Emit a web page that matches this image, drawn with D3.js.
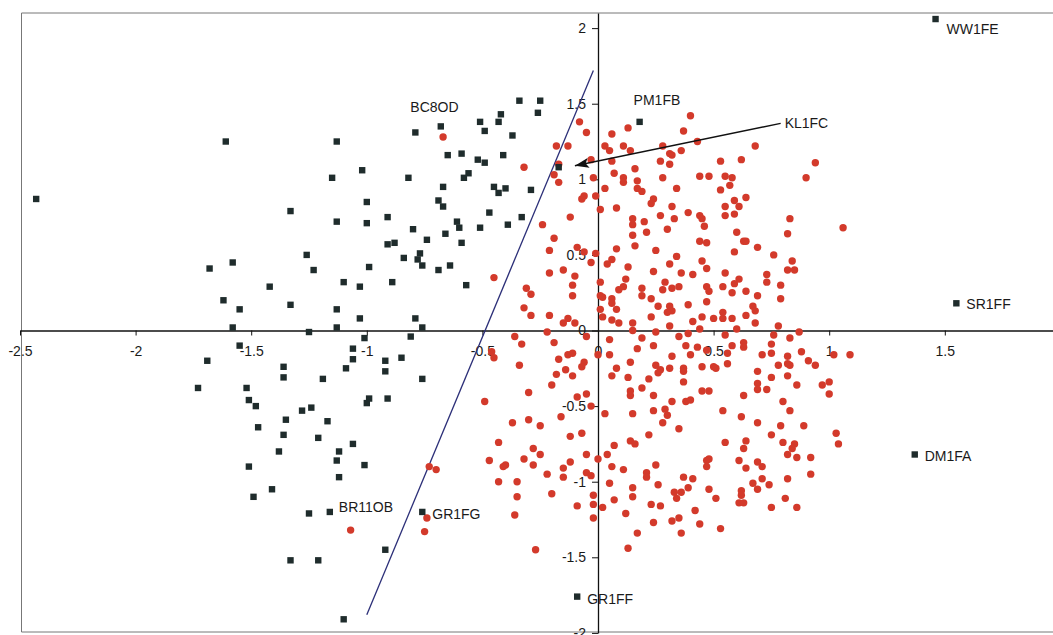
<!DOCTYPE html>
<html>
<head>
<meta charset="utf-8">
<script src="https://cdn.jsdelivr.net/npm/d3@7"></script>
<style>
  body { margin: 0; background: #fff; }
  svg { display: block; }
</style>
</head>
<body>
<svg id="chart" width="1053" height="635"></svg>
<script>
// ---- data ----
const xTicks = [-2.5, -2, -1.5, -1, -0.5, 0, 0.5, 1, 1.5];
const xTickLabels = ["-2.5", "-2", "-1.5", "-1", "-0.5", "0", "0.5", "1", "1.5"];
const yTicks = [-2, -1.5, -1, -0.5, 0, 0.5, 1, 1.5, 2];
const yTickLabels = ["-2", "-1.5", "-1", "-0.5", "0", "0.5", "1", "1.5", "2"];

// group 1 (squares)
const groupSquares = [
  [-1.61,1.25],[-1.13,1.25],[-2.43,0.87],[-1.15,1.01],[-1.33,0.79],[-1.13,0.72],[-1.26,0.50],[-1.23,0.40],
  [-1.58,0.45],[-1.68,0.41],[-1.10,0.32],[-1.42,0.29],[-1.62,0.20],[-1.55,0.14],[-1.33,0.17],[-1.13,0.14],
  [-0.34,1.52],[-0.25,1.52],[-0.26,1.44],[-0.42,1.43],[-0.43,1.38],[-0.51,1.38],[-0.49,1.32],[-0.37,1.29],
  [-0.68,1.35],[-0.79,1.31],[-0.65,1.16],[-0.59,1.17],[-0.52,1.13],[-0.49,1.11],[-0.41,1.16],[-1.02,1.06],
  [-0.82,1.01],[-0.56,1.04],[-0.58,1.01],[-0.67,0.95],[-0.45,0.95],[-0.40,0.94],[-0.43,0.91],[-0.29,0.93],
  [-0.17,1.08],[-1.00,0.85],[-0.69,0.86],[-0.67,0.82],[-0.47,0.78],[-0.33,0.75],[-0.39,0.70],[-0.51,0.68],
  [-1.00,0.71],[-0.91,0.75],[-0.80,0.67],[-0.61,0.72],[-0.60,0.68],[-0.66,0.64],[-0.74,0.60],[-0.59,0.58],
  [-0.91,0.57],[-0.88,0.58],[-0.77,0.51],[-0.84,0.48],[-0.78,0.47],[-0.76,0.43],[-0.99,0.42],[-0.69,0.40],
  [-0.64,0.43],[-1.03,0.29],[-0.89,0.32],[-0.57,0.30],[-1.03,0.08],[-0.79,0.08],[-1.58,0.02],[-1.25,-0.01],
  [-1.13,0.02],[-0.76,0.02],[-1.01,-0.05],[-0.81,-0.04],[-1.55,-0.10],[-1.06,-0.12],[-1.06,-0.19],[-1.69,-0.20],
  [-1.36,-0.24],[-1.36,-0.31],[-1.09,-0.25],[-0.92,-0.20],[-0.92,-0.27],[-0.85,-0.18],[-1.19,-0.32],[-0.76,-0.32],
  [-1.73,-0.38],[-1.52,-0.38],[-1.51,-0.46],[-1.48,-0.50],[-0.99,-0.45],[-1.00,-0.48],[-0.91,-0.45],[-1.28,-0.53],
  [-1.24,-0.51],[-1.35,-0.59],[-1.17,-0.60],[-1.47,-0.64],[-1.36,-0.69],[-1.21,-0.71],[-1.06,-0.75],[-1.38,-0.80],
  [-1.12,-0.80],[-1.13,-0.86],[-1.01,-0.89],[-1.51,-0.90],[-1.12,-0.97],[-1.41,-1.05],[-1.49,-1.10],[-1.25,-1.21],
  [-1.16,-1.20],[-0.76,-1.20],[-0.92,-1.45],[-1.33,-1.52],[-1.21,-1.52],[-1.10,-1.91],
  [0.18,1.38],[1.46,2.06],[1.55,0.18],[1.37,-0.82],[-0.09,-1.76]
];

// group 2 (circles)
const groupCircles = [
  [-0.67,1.28],[-0.08,1.38],[-0.05,1.31],[-0.18,1.22],[-0.13,1.22],[-0.32,1.08],[-0.17,1.10],[-0.19,1.03],
  [-0.17,0.98],[-0.03,1.13],[-0.02,1.01],[-0.06,0.89],[-0.07,0.87],[-0.01,0.89],[0.01,0.80],[-0.12,0.75],
  [-0.24,0.70],[-0.19,0.61],[-0.21,0.53],[-0.09,0.55],[-0.06,0.52],[-0.01,0.51],[-0.03,0.45],[-0.21,0.38],
  [-0.15,0.40],[-0.10,0.36],[-0.11,0.30],[0.01,0.32],[-0.45,0.35],[-0.31,0.28],[-0.29,0.24],[-0.11,0.23],
  [0.01,0.14],[-0.32,0.15],[-0.29,0.10],[-0.21,0.10],[-0.13,0.08],[-0.15,0.05],[-0.10,0.05],
  [0.40,1.42],[0.37,1.32],[0.13,1.34],[0.06,1.30],[0.03,1.22],[0.05,1.19],[0.11,1.22],[0.14,1.19],
  [0.28,1.22],[0.36,1.19],[0.43,1.25],[0.68,1.22],[0.06,1.12],[0.27,1.12],[0.31,1.17],[0.32,1.16],
  [0.31,1.10],[0.53,1.12],[0.62,1.13],[0.94,1.11],[0.90,1.01],[0.16,1.07],[0.07,1.04],[0.11,1.01],
  [0.11,0.98],[0.03,0.94],[0.17,0.99],[0.17,0.94],[0.19,0.92],[0.28,1.01],[0.34,0.94],[0.44,1.02],
  [0.48,1.02],[0.55,1.02],[0.58,1.01],[0.57,0.96],[0.53,0.93],[0.08,0.81],[0.24,0.87],[0.23,0.84],
  [0.32,0.82],[0.39,0.78],[0.44,0.76],[0.45,0.74],[0.59,0.86],[0.64,0.88],[0.55,0.82],[0.61,0.82],
  [0.59,0.77],[0.55,0.76],[0.15,0.74],[0.15,0.70],[0.20,0.72],[0.21,0.65],[0.27,0.76],[0.33,0.74],
  [0.30,0.67],[0.46,0.69],[0.60,0.65],[0.83,0.74],[0.82,0.64],[1.06,0.68],[0.15,0.63],[0.16,0.56],
  [0.08,0.54],[0.25,0.53],[0.44,0.59],[0.47,0.58],[0.63,0.59],[0.64,0.59],[0.69,0.55],[0.59,0.52],
  [0.76,0.50],[0.84,0.46],[0.82,0.40],[0.85,0.40],[0.34,0.49],[0.45,0.46],[0.47,0.41],[0.31,0.44],
  [0.24,0.39],[0.13,0.42],[0.06,0.47],[0.04,0.44],[0.36,0.38],[0.41,0.37],[0.55,0.38],[0.73,0.37],
  [0.73,0.32],[0.12,0.34],[0.09,0.27],[0.11,0.29],[0.19,0.28],[0.19,0.23],[0.28,0.27],[0.29,0.32],
  [0.32,0.28],[0.35,0.29],[0.47,0.29],[0.48,0.26],[0.54,0.29],[0.58,0.25],[0.59,0.31],[0.61,0.34],
  [0.64,0.26],[0.69,0.23],[0.79,0.30],[0.79,0.21],[0.01,0.23],[0.02,0.22],[0.06,0.21],[0.06,0.18],
  [0.08,0.14],[0.23,0.21],[0.26,0.16],[0.31,0.16],[0.32,0.13],[0.30,0.12],[0.39,0.17],[0.47,0.19],
  [0.67,0.16],[0.68,0.13],[0.02,0.09],[0.06,0.07],[0.09,0.05],[0.15,0.05],[0.15,0.00],[0.23,0.09],
  [0.31,0.03],[0.41,0.06],[0.45,0.09],[0.44,0.01],[0.50,0.08],[0.54,0.08],[0.54,0.12],[0.58,0.08],
  [0.60,0.01],[0.64,0.10],[0.68,0.05],[0.78,0.03],
  [-0.73,-0.90],[-0.70,-0.92],[-0.74,-1.24],[-0.75,-1.33],[-1.07,-1.32],
  [-0.36,-0.04],[-0.33,-0.09],[-0.45,-0.18],[-0.46,-0.14],[-0.34,-0.23],[-0.19,-0.08],[-0.22,-0.01],[-0.05,-0.04],
  [-0.17,-0.19],[-0.13,-0.16],[-0.11,-0.15],[-0.06,-0.21],[-0.07,-0.24],[-0.14,-0.26],[-0.18,-0.29],[-0.11,-0.30],
  [-0.20,-0.36],[-0.30,-0.41],[-0.49,-0.47],[-0.09,-0.44],[-0.05,-0.42],[-0.03,-0.50],[-0.16,-0.57],[-0.30,-0.59],
  [-0.37,-0.61],[-0.25,-0.63],[-0.12,-0.70],[-0.07,-0.68],[-0.43,-0.74],[-0.28,-0.78],[-0.25,-0.82],[-0.05,-0.82],
  [-0.47,-0.86],[-0.40,-0.89],[-0.41,-0.90],[-0.32,-0.85],[-0.28,-0.89],[-0.12,-0.87],[-0.15,-0.91],[-0.22,-0.95],
  [-0.15,-0.97],[-0.05,-0.94],[-0.03,-0.96],[-0.43,-1.00],[-0.35,-1.00],[-0.35,-1.10],[-0.20,-1.08],[-0.02,-1.09],
  [-0.09,-1.16],[-0.02,-1.15],[-0.36,-1.22],[-0.02,-1.24],[-0.27,-1.45],
  [0.05,-0.06],[0.05,-0.16],[0.00,-0.16],[0.08,-0.25],[0.06,-0.30],[0.14,-0.21],[0.13,-0.31],[0.17,-0.12],
  [0.19,-0.05],[0.24,-0.10],[0.25,-0.01],[0.35,-0.04],[0.39,-0.02],[0.38,-0.10],[0.43,-0.11],[0.40,-0.16],
  [0.32,-0.17],[0.47,-0.13],[0.25,-0.23],[0.27,-0.26],[0.31,-0.25],[0.37,-0.25],[0.37,-0.27],[0.50,-0.24],
  [0.51,-0.25],[0.45,-0.24],[0.26,-0.28],[0.19,-0.38],[0.14,-0.40],[0.14,-0.43],[0.22,-0.32],[0.24,-0.43],
  [0.37,-0.34],[0.45,-0.40],[0.48,-0.40],[0.32,-0.47],[0.38,-0.47],[0.40,-0.46],[0.03,-0.55],[0.15,-0.55],
  [0.24,-0.53],[0.29,-0.52],[0.30,-0.56],[0.28,-0.61],[0.35,-0.65],[0.22,-0.69],[0.14,-0.73],[0.16,-0.75],
  [0.07,-0.76],[0.04,-0.82],[0.00,-0.85],[0.06,-0.90],[0.11,-0.92],[0.25,-0.89],[0.21,-0.94],[0.21,-0.97],
  [0.26,-1.02],[0.05,-1.01],[0.15,-1.04],[0.15,-1.10],[0.07,-1.12],[0.02,-1.17],[0.12,-1.21],[0.23,-1.15],
  [0.27,-1.16],[0.33,-1.07],[0.36,-1.07],[0.34,-1.11],[0.37,-0.97],[0.39,-1.04],[0.41,-0.98],[0.47,-0.86],
  [0.48,-0.85],[0.47,-0.90],[0.48,-1.05],[0.51,-1.11],[0.42,-1.19],[0.24,-1.27],[0.32,-1.26],[0.35,-1.24],
  [0.44,-1.28],[0.36,-1.34],[0.17,-1.34],[0.13,-1.44],[0.53,-1.31],
  [0.55,-0.03],[0.76,-0.03],[0.83,-0.05],[0.87,-0.01],[0.58,-0.10],[0.63,-0.08],[0.63,-0.11],[0.56,-0.15],
  [0.75,-0.09],[0.75,-0.15],[0.71,-0.16],[0.88,-0.14],[0.82,-0.17],[0.82,-0.22],[0.83,-0.23],[0.78,-0.23],
  [0.91,-0.20],[0.94,-0.23],[1.02,-0.16],[1.09,-0.16],[0.56,-0.22],[0.69,-0.27],[0.75,-0.31],[0.82,-0.30],
  [0.69,-0.35],[0.69,-0.39],[0.73,-0.39],[0.86,-0.36],[0.97,-0.36],[1.00,-0.34],[1.00,-0.42],[0.63,-0.43],
  [0.80,-0.47],[0.54,-0.53],[0.83,-0.53],[0.62,-0.57],[0.69,-0.61],[0.79,-0.63],[0.89,-0.63],[0.75,-0.69],
  [1.03,-0.68],[1.04,-0.75],[0.55,-0.74],[0.64,-0.73],[0.63,-0.78],[0.80,-0.74],[0.85,-0.75],[0.84,-0.78],
  [0.82,-0.82],[0.86,-0.84],[0.92,-0.84],[0.61,-0.86],[0.69,-0.87],[0.71,-0.90],[0.64,-0.91],[0.71,-0.98],
  [0.67,-1.01],[0.69,-1.05],[0.74,-1.02],[0.82,-0.98],[0.92,-0.95],[0.62,-1.06],[0.62,-1.09],[0.61,-1.14],
  [0.63,-1.14],[0.81,-1.11],[0.75,-1.17],[0.86,-1.17]
];

// named observations
const labelNames = ["WW1FE", "SR1FF", "DM1FA", "GR1FF", "GR1FG", "BR11OB", "BC8OD", "PM1FB"];
const labelX = [1.46, 1.55, 1.37, -0.09, -0.76, -1.16, -0.79, 0.18];
const labelY = [2.06, 0.18, -0.82, -1.76, -1.20, -1.20, 1.31, 1.38];

// separating line and the KL1FC pointer
const dividerX = [-1.00, -0.02];
const dividerY = [-1.88, 1.72];
const pointerName = "KL1FC";
const pointerX = [0.79, -0.10];
const pointerY = [1.37, 1.09];

// ---- drawing ----
const W = 1053, H = 635;
const FONT = "'Liberation Sans', Arial, sans-serif";
const svg = d3.select("#chart");

const x = d3.scaleLinear().domain([-2.5, 2]).range([20, 1060.4]);
const y = d3.scaleLinear().domain([-2, 2.1]).range([632.9, 13]);

// plot frame
svg.append("path")
  .attr("d", `M${W},13H21.5V632H${W}`)
  .attr("fill", "none")
  .attr("stroke", "#777")
  .attr("stroke-width", 1);

// axes crossing at the origin
const xAxis = d3.axisBottom(x)
  .tickValues(xTicks)
  .tickFormat((d, i) => xTickLabels[i])
  .tickSize(5)
  .tickSizeOuter(0)
  .tickPadding(11);

const yAxis = d3.axisLeft(y)
  .tickValues(yTicks)
  .tickFormat((d, i) => yTickLabels[i])
  .tickSize(6)
  .tickSizeOuter(0)
  .tickPadding(6);

const gx = svg.append("g")
  .attr("transform", `translate(0,${y(0)})`)
  .call(xAxis);
const gy = svg.append("g")
  .attr("transform", `translate(${x(0)},0)`)
  .call(yAxis);

[gx, gy].forEach(g => {
  g.select(".domain").attr("stroke", "#111").attr("stroke-width", 1.3);
  g.selectAll(".tick line").attr("stroke", "#111").attr("stroke-width", 1);
  g.selectAll(".tick text")
    .attr("fill", "#1a1a1a")
    .style("font-family", FONT)
    .style("font-size", "14px");
});

// divider line
svg.append("line")
  .attr("x1", x(dividerX[0])).attr("y1", y(dividerY[0]))
  .attr("x2", x(dividerX[1])).attr("y2", y(dividerY[1]))
  .attr("stroke", "#2c2f78")
  .attr("stroke-width", 1.3);

// circles
svg.append("g")
  .selectAll("circle")
  .data(groupCircles)
  .join("circle")
  .attr("cx", d => x(d[0]))
  .attr("cy", d => y(d[1]))
  .attr("r", 3.7)
  .attr("fill", "#d33a2b");

// squares
const sq = 6.4;
svg.append("g")
  .selectAll("rect")
  .data(groupSquares)
  .join("rect")
  .attr("x", d => x(d[0]) - sq / 2)
  .attr("y", d => y(d[1]) - sq / 2)
  .attr("width", sq)
  .attr("height", sq)
  .attr("fill", "#1f2c2c");

// name labels (pixel offsets from their squares)
const labelOffsets = [[11, 15], [10, 6], [10, 7], [10, 7], [10, 7], [9, 0], [-5, -20], [-6, -17]];
svg.append("g")
  .selectAll("text")
  .data(labelNames)
  .join("text")
  .attr("x", (d, i) => x(labelX[i]) + labelOffsets[i][0])
  .attr("y", (d, i) => y(labelY[i]) + labelOffsets[i][1])
  .attr("fill", "#1a1a1a")
  .style("font-family", FONT)
  .style("font-size", "14px")
  .text(d => d);

// pointer arrow
svg.append("defs").append("marker")
  .attr("id", "head")
  .attr("viewBox", "0 0 14 10")
  .attr("refX", 14).attr("refY", 5)
  .attr("markerUnits", "userSpaceOnUse")
  .attr("markerWidth", 14).attr("markerHeight", 10)
  .attr("orient", "auto")
  .append("path")
  .attr("d", "M0,0L14,5L0,10L3,5Z")
  .attr("fill", "#111");

svg.append("line")
  .attr("x1", x(pointerX[0])).attr("y1", y(pointerY[0]))
  .attr("x2", x(pointerX[1])).attr("y2", y(pointerY[1]))
  .attr("stroke", "#111")
  .attr("stroke-width", 1.4)
  .attr("marker-end", "url(#head)");

svg.append("text")
  .attr("x", x(pointerX[0]) + 4)
  .attr("y", y(pointerY[0]) + 5)
  .attr("fill", "#1a1a1a")
  .style("font-family", FONT)
  .style("font-size", "14px")
  .text(pointerName);
</script>
</body>
</html>
